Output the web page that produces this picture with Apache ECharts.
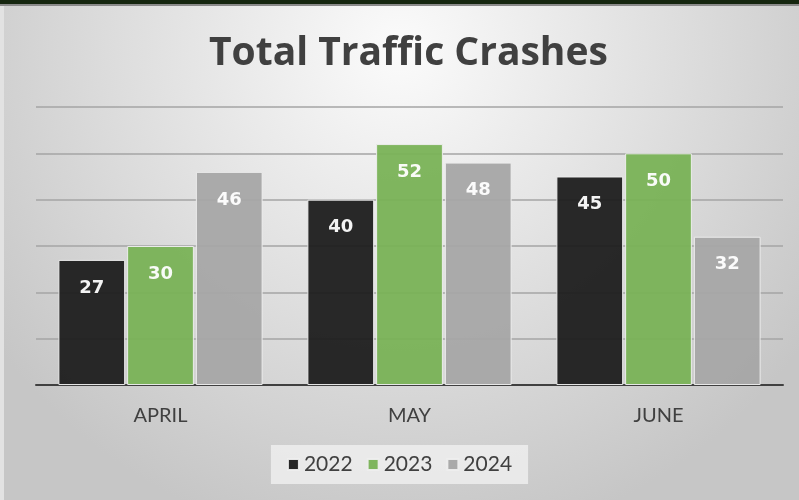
<!DOCTYPE html>
<html>
<head>
<meta charset="utf-8">
<script src="https://cdn.jsdelivr.net/npm/echarts@6/dist/echarts.min.js"></script>
<style>
  html, body { margin: 0; padding: 0; }
  #root { width: 799px; height: 500px; }
</style>
</head>
<body>
<div id="root"></div>
<script>
var months = ['APRIL', 'MAY', 'JUNE']
var years = ['2022', '2023', '2024']
var crashes2022 = [27, 40, 45]
var crashes2023 = [30, 52, 50]
var crashes2024 = [46, 48, 32]

var colors = ['#1e1e1e', '#79b256', '#a6a6a6']
var myChart = echarts.init(document.getElementById('root'))

var label = {
  show: true,
  position: 'insideTop',
  distance: 19,
  color: '#ffffff',
  fontFamily: 'DejaVu Sans',
  fontWeight: 'bold',
  fontSize: 18
}

function makeSeries (name, data, i) {
  return {
    name: name,
    type: 'bar',
    data: data,
    barWidth: '26.8%',
    barGap: '3%',
    itemStyle: {
      color: colors[i],
      opacity: 0.95,
      borderColor: '#eeeeee',
      borderWidth: 1
    },
    label: label
  }
}

var option = {
  backgroundColor: {
    type: 'radial',
    x: 0.5,
    y: 0.1,
    r: 1,
    colorStops: [
      { offset: 0, color: '#fbfbfb' },
      { offset: 1, color: '#c6c6c6' }
    ]
  },
  animation: false,
  graphic: [
    { type: 'rect', left: 0, top: 0, shape: { width: 799, height: 4 }, style: { fill: '#15260f' } },
    { type: 'rect', left: 0, top: 4, shape: { width: 799, height: 2 }, style: { fill: '#8a8a8a' } },
    { type: 'rect', left: 0, top: 6, shape: { width: 4, height: 494 }, style: { fill: '#e2e2e2' } }
  ],
  title: {
    text: 'Total Traffic Crashes',
    left: 204,
    top: 29,
    textStyle: {
      fontFamily: 'Open Sans',
      fontWeight: 'bold',
      fontSize: 39,
      color: '#404040'
    }
  },
  legend: {
    data: years,
    bottom: 16,
    left: 'center',
    itemWidth: 11,
    itemHeight: 11,
    itemGap: 14,
    padding: [9, 16],
    backgroundColor: 'rgba(236,236,236,0.9)',
    icon: 'rect',
    textStyle: {
      fontFamily: 'Lato',
      fontSize: 21,
      color: '#404040'
    }
  },
  grid: {
    left: 36,
    right: 16,
    top: 107,
    bottom: 115
  },
  xAxis: {
    type: 'category',
    data: months,
    axisLine: { lineStyle: { color: '#404040', width: 2 } },
    axisTick: { show: false },
    axisLabel: {
      margin: 21,
      fontFamily: 'Lato',
      fontSize: 20,
      color: '#404040'
    }
  },
  yAxis: {
    type: 'value',
    min: 0,
    max: 60,
    interval: 10,
    axisLabel: { show: false },
    axisLine: { show: false },
    axisTick: { show: false },
    splitLine: { lineStyle: { color: '#a4a4a4', width: 1.5 } }
  },
  series: [
    makeSeries(years[0], crashes2022, 0),
    makeSeries(years[1], crashes2023, 1),
    makeSeries(years[2], crashes2024, 2)
  ]
}

myChart.setOption(option)
</script>
</body>
</html>
